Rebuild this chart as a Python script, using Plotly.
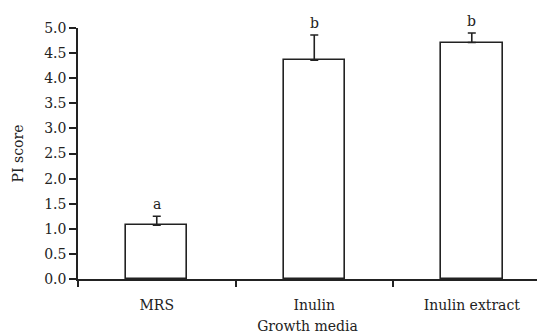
import plotly.graph_objects as go

categories = ["MRS", "Inulin", "Inulin extract"]
pi_score = [1.07, 4.36, 4.71]
pi_error = [0.18, 0.50, 0.19]
letters = ["a", "b", "b"]
y_ticks = [0.0, 0.5, 1.0, 1.5, 2.0, 2.5, 3.0, 3.5, 4.0, 4.5, 5.0]

xs = list(range(len(categories)))
font = dict(family="DejaVu Serif, Liberation Serif, serif", size=14, color="#222")

fig = go.Figure(go.Bar(
    x=xs, y=pi_score, width=0.39,
    marker=dict(color="white", line=dict(color="#222", width=1.6)),
    error_y=dict(type="data", array=pi_error, arrayminus=[0]*len(pi_error),
                 symmetric=False, color="#222", thickness=1.6, width=4),
))

for x, v, e, t in zip(xs, pi_score, pi_error, letters):
    fig.add_annotation(x=x, y=v + e, text=t, showarrow=False, yanchor="bottom",
                       yshift=2, font=font)

fig.update_layout(
    width=537, height=334,
    margin=dict(l=78, r=0, t=28, b=55),
    plot_bgcolor="white", paper_bgcolor="white",
    font=font, showlegend=False, bargap=0,
)
fig.update_xaxes(
    range=[-0.5, 2.414], tickmode="array", tickvals=xs, ticktext=categories,
    ticks="", showline=True, linecolor="#222", linewidth=1.5, showgrid=False,
    zeroline=False, tickfont=font, ticklabelstandoff=12,
    minor=dict(tickmode="array", tickvals=[-0.5, 0.5, 1.5], ticks="outside",
               ticklen=6, tickwidth=1.5, tickcolor="#222", showgrid=False),
    title=dict(text="Growth media", font=font, standoff=12),
)
fig.update_yaxes(
    range=[0, 5.0], tickmode="array", tickvals=y_ticks,
    ticktext=[f"{v:.1f}" for v in y_ticks],
    ticks="outside", ticklen=7, tickwidth=1.5, tickcolor="#222",
    showline=True, linecolor="#222", linewidth=1.5, showgrid=False,
    zeroline=False, tickfont=font,
    title=dict(text="PI score", font=font, standoff=17),
)

fig.write_html("out.html")
